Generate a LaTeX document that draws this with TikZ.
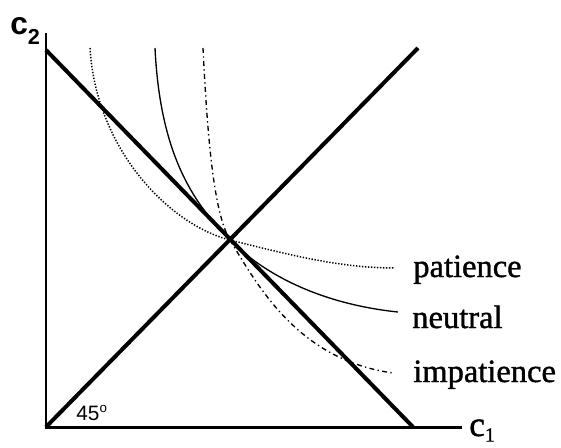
\documentclass[tikz,border=0pt]{standalone}
\usepackage{fontspec}
\setmainfont{Liberation Serif}
\newfontfamily\labfont[FakeBold=1.2]{Liberation Serif}
\newfontfamily\lsans{Liberation Sans}
\begin{document}
\begin{tikzpicture}[x=0.6pt,y=-0.6pt,
  axis/.style={line width=1.8pt},
  thick line/.style={line width=2.4pt},
  curve/.style={line width=0.8pt},
  lab/.style={anchor=base west,inner sep=0pt,font=\labfont\fontsize{19.5pt}{22pt}\selectfont}]
\useasboundingbox (0,0) rectangle (561,448);
\coordinate (O) at (46,427);
\coordinate (Ytop) at (46,33);
\coordinate (Xend) at (462,427);
\coordinate (B1) at (46,50);
\coordinate (B2) at (413,427);
\coordinate (D2) at (418,48);
\coordinate (P) at (230,240);
\coordinate (pa0) at (90,48);
\coordinate (pa1) at (395,268);
\coordinate (ne0) at (155,48);
\coordinate (ne1) at (398,312);
\coordinate (im0) at (203,48);
\coordinate (im1) at (393,373);
% axes
\draw[axis] (Ytop) -- (O) -- (Xend);
% budget line and 45 degree line
\draw[thick line] (B1) -- (B2);
\draw[thick line] (O) -- (D2);
% indifference curves
\draw[curve,densely dotted,line width=0.9pt] (pa0) .. controls (96,150) and (170,225) .. (P) .. controls (290,255) and (340,268) .. (pa1);
\draw[curve] (ne0) .. controls (160,150) and (190,200) .. (P) .. controls (270,280) and (330,305) .. (ne1);
\draw[curve,dash dot] (im0) .. controls (208,150) and (215,215) .. (P) .. controls (260,290) and (300,360) .. (im1);
% labels
\node[lab] (lpat) at (413,277) {patience};
\node[lab] (lneu) at (412,328) {neutral};
\node[lab] (limp) at (413,382) {impatience};
\node[anchor=base west,inner sep=0pt,font=\lsans\bfseries\fontsize{19pt}{22pt}\selectfont] (c2) at (10,34) {c\raisebox{-0.6ex}{\fontsize{13pt}{14pt}\selectfont 2}};
\node[anchor=base west,inner sep=0pt,font=\labfont\fontsize{21pt}{24pt}\selectfont] (c1) at (469,436) {c\raisebox{-0.35ex}{\fontsize{12pt}{14pt}\selectfont 1}};
\node[anchor=base west,inner sep=0pt,font=\lsans\fontsize{12.5pt}{14pt}\selectfont] (ang) at (76,420) {45\raisebox{0.7ex}{\fontsize{8pt}{9pt}\selectfont o}};
\end{tikzpicture}
\end{document}
